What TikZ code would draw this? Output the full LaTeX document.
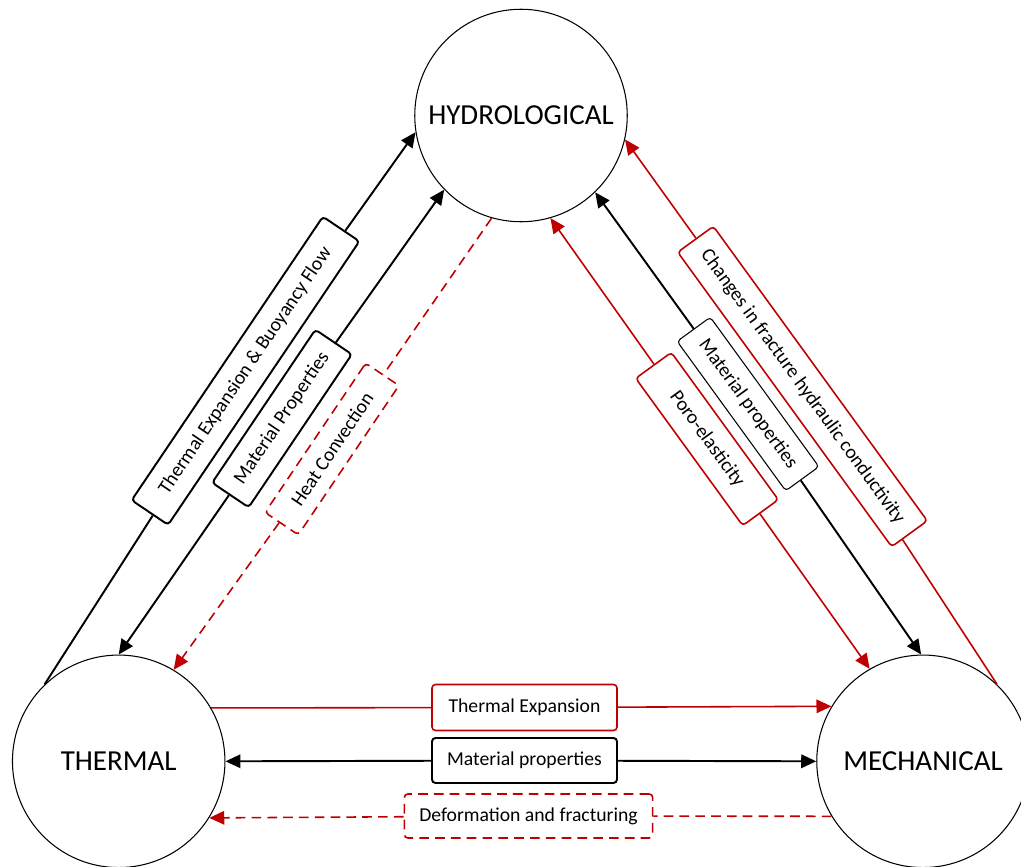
\documentclass[tikz,border=0pt]{standalone}
\usepackage{fontspec}
\setmainfont{Carlito}
\usetikzlibrary{arrows.meta}
\definecolor{linkred}{RGB}{192,0,0}

\begin{document}
\begin{tikzpicture}[
    >={Triangle[length=0.3cm, width=0.27cm]},
    field/.style={draw, circle, line width=0.6pt, minimum size=4.25cm, inner sep=0pt,
      font=\fontsize{16.5}{20}\selectfont},
    tag/.style={draw, rounded corners=2pt, fill=white, line width=1.1pt,
      minimum height=0.88cm, inner xsep=0.3cm, font=\fontsize{11.2}{13}\selectfont},
    redtag/.style={tag, draw=linkred, line width=0.9pt},
    link/.style={line width=1.1pt, ->},
    redlink/.style={link, draw=linkred, line width=0.9pt},
    dashes/.style={dash pattern=on 5.5pt off 3.5pt},
  ]
  \useasboundingbox (0,0) rectangle (20.42,-17.32);

  % the three fields
  \node[field] (hydro) at (10.42,-2.31) {HYDROLOGICAL};
  \node[field] (thermal) at (2.374,-15.226) {THERMAL};
  \node[field] (mech) at (18.46,-15.226) {MECHANICAL};

  % labels on the thermal--hydrological side
  \node[tag, rotate=56, minimum width=6.84cm] (tebf) at (4.91,-7.415)
    {Thermal Expansion \& Buoyancy Flow};
  \node[tag, rotate=56, minimum width=3.68cm] (matl) at (5.64,-8.37)
    {Material Properties};
  \node[redtag, dashes, rotate=56, minimum width=3.6cm, minimum height=0.8cm]
    (heatconv) at (6.64,-8.98) {Heat Convection};

  % labels on the mechanical--hydrological side
  \node[redtag, rotate=-54, minimum width=7.28cm] (changes) at (16.05,-7.73)
    {Changes in fracture hydraulic conductivity};
  \node[tag, line width=0.6pt, rotate=-54, minimum width=3.66cm, minimum height=0.82cm]
    (matr) at (14.96,-8.08) {Material properties};
  \node[redtag, rotate=-54, minimum width=3.64cm] (poro) at (14.14,-8.78)
    {Poro-elasticity};

  % labels on the thermal--mechanical side
  \node[redtag, minimum width=3.7cm, minimum height=0.92cm] (thexp) at (10.49,-14.15)
    {Thermal Expansion};
  \node[tag, minimum width=3.7cm, minimum height=0.9cm] (matb) at (10.49,-15.21)
    {Material properties};
  \node[redtag, dashes, minimum width=4.86cm] (deform) at (10.57,-16.32)
    {Deformation and fracturing};

  % couplings (two-way ones are drawn in two halves)
  \draw[link] (thermal.134.8) -- (tebf) -- (hydro.189.3);
  \draw[link, <-] (thermal.90) -- (matl);
  \draw[link] (matl) -- (hydro.224.5);
  \draw[redlink, dashes] (hydro.254.2) -- (heatconv) -- (thermal.59.3);
  \draw[redlink] (mech.46.3) -- (changes) -- (hydro.347.5);
  \draw[link, <-] (mech.91) -- (matr);
  \draw[link] (matr) -- (hydro.314.1);
  \draw[redlink, <-] (mech.120.7) -- (poro);
  \draw[redlink] (poro) -- (hydro.286.2);
  \draw[redlink] (thermal.30.5) -- (thexp) -- (mech.149.5);
  \draw[link, <-] (thermal.0) -- (matb);
  \draw[link] (matb) -- (mech.180);
  \draw[redlink, dashes] (mech.211.1) -- (deform) -- (thermal.328.9);
\end{tikzpicture}
\end{document}
